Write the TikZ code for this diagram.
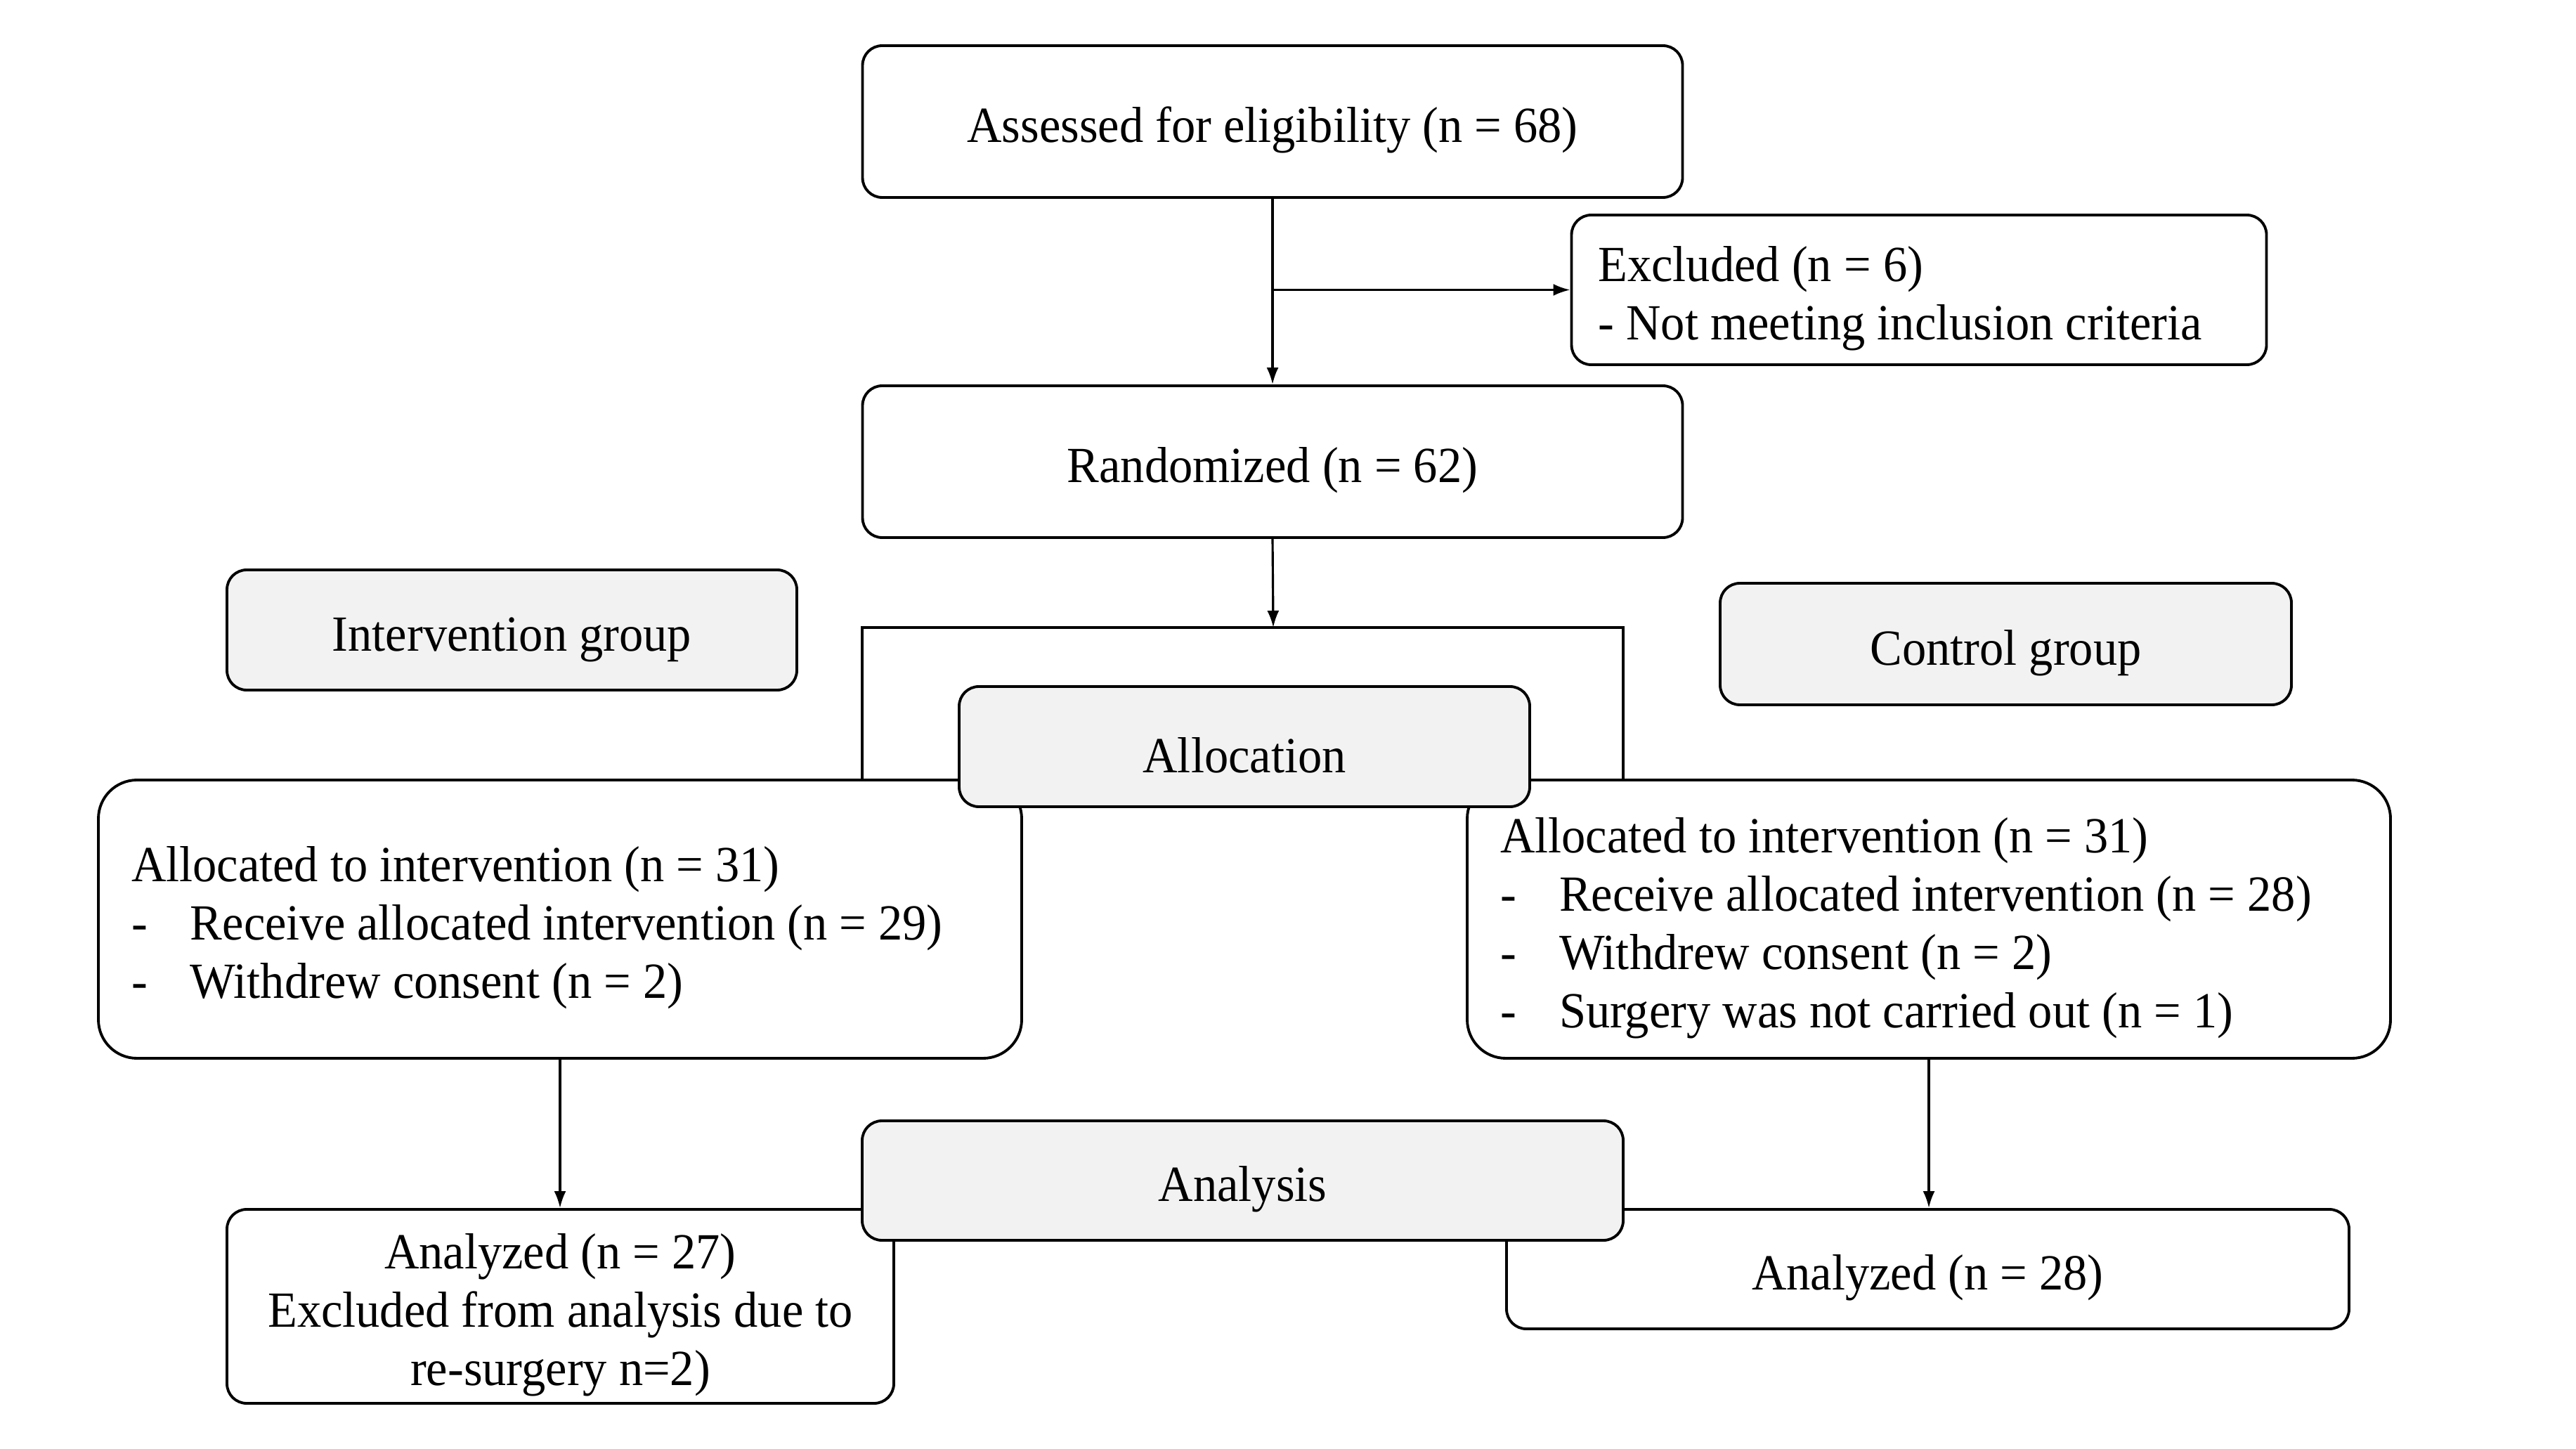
\documentclass[tikz,border=0pt]{standalone}
\usepackage{fontspec}
\setmainfont{Liberation Serif}[FakeStretch=0.95]
\usetikzlibrary{arrows.meta}
\definecolor{boxgray}{HTML}{F2F2F2}
\newcommand\fsz{\fontsize{20.5}{23.6}\selectfont}
\newcommand\dashitem{\makebox[0.84cm][l]{-}}
\newcommand\tp{\rule{0pt}{0.75cm}}
\tikzset{
  box/.style={draw, line width=1.1pt, rounded corners=0.28cm, inner sep=0pt, align=center, font=\fsz, fill=white},
  graybox/.style={box, fill=boxgray},
  bigbox/.style={box, rounded corners=0.55cm, align=flush left},
  conn/.style={line width=0.9pt, -{Latex[length=0.24cm,width=0.17cm]}},
  plainline/.style={line width=0.9pt},
}
\begin{document}
\begin{tikzpicture}
\useasboundingbox (0,0) rectangle (36.66,-20.62);
% top
\node[box, minimum width=11.67cm, minimum height=2.16cm] (assess) at (18.11,-1.73) {\tp Assessed for eligibility (n = 68)};
\node[box, text width=9.13cm, inner xsep=0.38cm, minimum height=2.13cm, align=flush left] (excl) at (27.31,-4.125) {\tp Excluded (n = 6)\\- Not meeting inclusion criteria};
\node[box, minimum width=11.67cm, minimum height=2.16cm] (rand) at (18.11,-6.57) {\tp Randomized (n = 62)};
\coordinate (split) at (assess.south |- excl.west);
\draw[plainline] (assess.south) -- (split);
\draw[conn] (split) -- (excl.west);
\draw[conn] (split) -- (rand.north);
% side labels
\node[graybox, minimum width=8.11cm, minimum height=1.71cm] (interv) at (7.285,-8.965) {\tp Intervention group};
\node[graybox, minimum width=8.13cm, minimum height=1.73cm] (control) at (28.545,-9.165) {\tp Control group};
% allocated boxes
\node[bigbox, text width=12.2cm, inner xsep=0.47cm, minimum height=3.96cm] (lalloc) at (7.97,-13.08) {\tp Allocated to intervention (n = 31)\\
\dashitem Receive allocated intervention (n = 29)\\
\dashitem Withdrew consent (n = 2)};
\node[bigbox, text width=12.2cm, inner xsep=0.47cm, minimum height=3.96cm] (ralloc) at (27.45,-13.08) {\tp Allocated to intervention (n = 31)\\
\dashitem Receive allocated intervention (n = 28)\\
\dashitem Withdrew consent (n = 2)\\
\dashitem Surgery was not carried out (n = 1)};
% bracket
\coordinate (btop) at (18.12,-8.93);
\coordinate (bl) at (12.27,-8.93);
\coordinate (br) at (23.10,-8.93);
\draw[conn] (rand.south) -- (btop);
\draw[line width=1.3pt] (bl |- lalloc.north) -- (bl) -- (br) -- (br |- ralloc.north);
\node[graybox, minimum width=8.12cm, minimum height=1.71cm] (alloc) at (17.71,-10.625) {\tp Allocation};
% analysis
\node[box, minimum width=9.49cm, minimum height=2.76cm] (lana) at (7.975,-18.59) {\tp Analyzed (n = 27)\\Excluded from analysis due to\\re-surgery n=2)};
\node[box, minimum width=11.99cm, minimum height=1.70cm] (rana) at (27.435,-18.06) {\tp Analyzed (n = 28)};
\draw[conn] (lalloc.south) -- (lalloc.south |- lana.north);
\draw[conn] (ralloc.south) -- (ralloc.south |- rana.north);
\node[graybox, minimum width=10.83cm, minimum height=1.70cm] (analysis) at (17.685,-16.80) {\tp Analysis};
\end{tikzpicture}
\end{document}
